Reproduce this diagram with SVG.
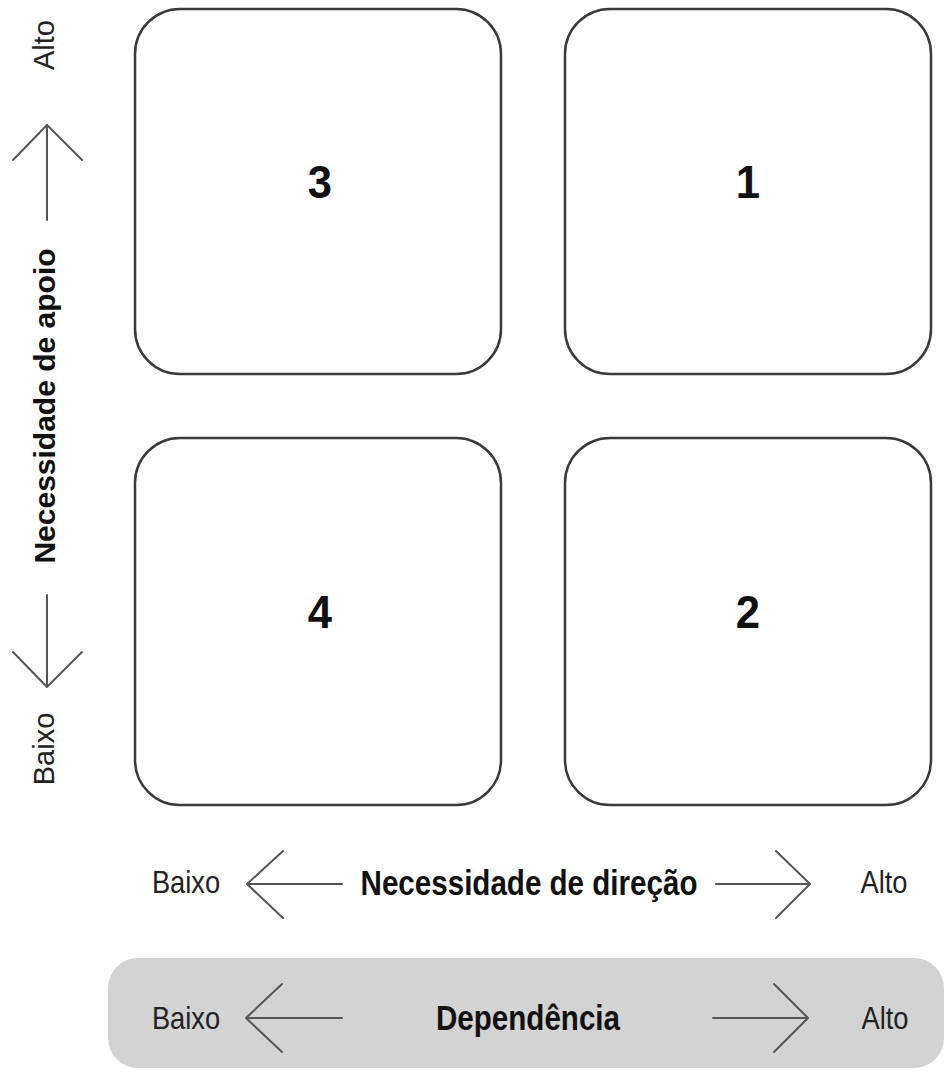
<svg xmlns="http://www.w3.org/2000/svg" width="948" height="1074" viewBox="0 0 948 1074">
<style>
.box{fill:#fff;stroke:#3a3a3a;stroke-width:2.5}
.num{font-family:"Liberation Sans",Arial,sans-serif;font-weight:bold;font-size:46px;fill:#111;text-anchor:middle}
.lbl{font-family:"Liberation Sans",Arial,sans-serif;font-size:31px;fill:#222;text-anchor:middle}
.vlbl{font-family:"Liberation Sans",Arial,sans-serif;font-size:29px;fill:#222;text-anchor:middle}
.ttl{font-family:"Liberation Sans",Arial,sans-serif;font-weight:bold;font-size:35px;fill:#111;text-anchor:middle}
.vttl{font-family:"Liberation Sans",Arial,sans-serif;font-weight:bold;font-size:30px;fill:#111;text-anchor:middle}
.arr{fill:none;stroke:#555;stroke-width:2;stroke-linecap:round;stroke-linejoin:round}
</style>
<rect x="108" y="958" width="836" height="110" rx="30" fill="#d3d3d3"/>
<g id="q3"><rect class="box" x="135" y="9" width="366" height="365" rx="45"/><text class="num" transform="translate(320,198) scale(0.95,1)">3</text></g>
<g id="q1"><rect class="box" x="565" y="9" width="366" height="365" rx="45"/><text class="num" transform="translate(748,198) scale(0.95,1)">1</text></g>
<g id="q4"><rect class="box" x="135" y="438" width="366" height="367" rx="45"/><text class="num" transform="translate(320,628) scale(0.95,1)">4</text></g>
<g id="q2"><rect class="box" x="565" y="438" width="366" height="367" rx="45"/><text class="num" transform="translate(748,628) scale(0.95,1)">2</text></g>
<g id="connectors">
<path class="arr" d="M47 220V125M13 160L47 125L82 160"/>
<path class="arr" d="M47 595V687M13 652L47 687L82 652"/>
<path class="arr" d="M342 884H247M283 851L247 884L283 918"/>
<path class="arr" d="M716 884H810M776 851L810 884L776 918"/>
<path class="arr" d="M342 1018H246M282 984L246 1018L282 1052"/>
<path class="arr" d="M713 1018H808M774 984L808 1018L774 1052"/>
</g>
<g id="vaxis">
<text class="vlbl" transform="translate(54,45) rotate(-90)">Alto</text>
<text class="vttl" transform="translate(55,406) rotate(-90)">Necessidade de apoio</text>
<text class="vlbl" transform="translate(54,749) rotate(-90)">Baixo</text>
</g>
<g id="haxis">
<text class="lbl" transform="translate(186,893) scale(0.88,1)">Baixo</text>
<text class="ttl" transform="translate(529,895) scale(0.845,1)">Necessidade de direção</text>
<text class="lbl" transform="translate(884,893) scale(0.88,1)">Alto</text>
</g>
<g id="dep">
<text class="lbl" transform="translate(186,1029) scale(0.88,1)">Baixo</text>
<text class="ttl" transform="translate(528,1030) scale(0.845,1)">Dependência</text>
<text class="lbl" transform="translate(885,1029) scale(0.88,1)">Alto</text>
</g>
</svg>
